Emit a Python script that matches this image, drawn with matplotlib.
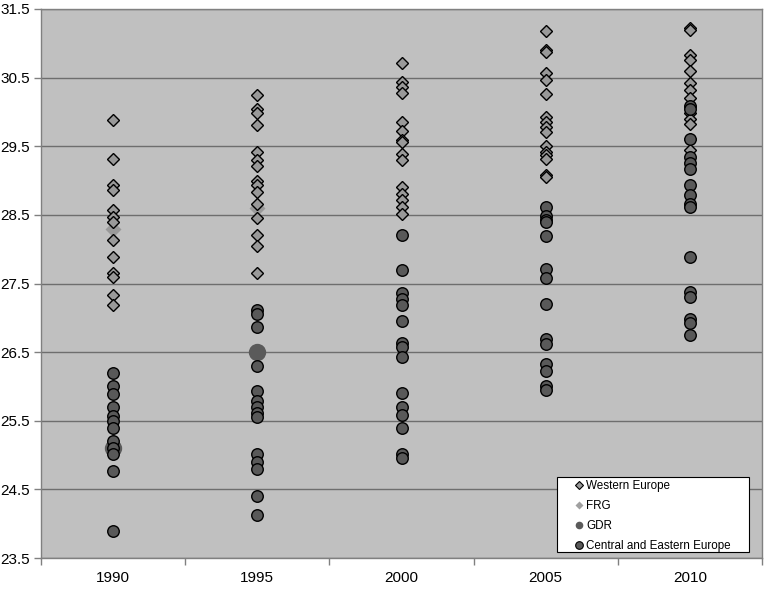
import matplotlib
matplotlib.use("Agg")
import matplotlib.pyplot as plt
from matplotlib.lines import Line2D
from matplotlib.patches import Rectangle
import numpy as np

plt.rcParams['font.family'] = ['Liberation Sans', 'DejaVu Sans']

years = ["1990", "1995", "2000", "2005", "2010"]
yticks = [23.5, 24.5, 25.5, 26.5, 27.5, 28.5, 29.5, 30.5, 31.5]

western_europe = [
    [29.88, 29.31, 28.93, 28.86, 28.57, 28.47, 28.39, 28.13, 27.88, 27.66, 27.59, 27.33, 27.18],
    [30.24, 30.05, 29.98, 29.81, 29.42, 29.30, 29.21, 29.00, 28.93, 28.83, 28.66, 28.46, 28.20, 28.04, 27.66],
    [30.72, 30.44, 30.37, 30.28, 29.85, 29.72, 29.59, 29.56, 29.39, 29.30, 28.91, 28.81, 28.71, 28.61, 28.52],
    [31.18, 30.90, 30.88, 30.57, 30.47, 30.26, 29.93, 29.85, 29.78, 29.71, 29.50, 29.42, 29.37, 29.31, 29.08, 29.05],
    [31.22, 31.19, 30.83, 30.76, 30.59, 30.42, 30.32, 30.20, 29.98, 29.90, 29.83, 29.61, 29.44],
]
frg = [28.30, 28.60]
gdr = [25.10, 26.50]
central_eastern_europe = [
    [26.20, 26.00, 25.89, 25.70, 25.57, 25.49, 25.40, 25.21, 25.11, 25.01, 24.77, 23.90],
    [27.12, 27.05, 26.86, 26.30, 25.93, 25.79, 25.70, 25.62, 25.55, 25.02, 24.90, 24.79, 24.41, 24.13],
    [28.20, 27.70, 27.36, 27.28, 27.19, 26.96, 26.63, 26.58, 26.43, 25.90, 25.70, 25.59, 25.39, 25.01, 24.96],
    [28.61, 28.49, 28.43, 28.39, 28.19, 27.71, 27.58, 27.20, 26.69, 26.62, 26.33, 26.22, 26.01, 25.95],
    [30.08, 30.05, 29.60, 29.34, 29.25, 29.17, 28.94, 28.79, 28.66, 28.61, 27.89, 27.37, 27.30, 26.98, 26.93, 26.75],
]

fig = plt.figure(figsize=(7.65, 5.89), dpi=100)
ax = fig.add_axes([41/765, 31/589, 721/765, 549/589])
ax.set_facecolor('#c0c0c0')

# big FRG / GDR markers (behind)
ax.plot(range(len(frg)), frg, linestyle='none', marker='D', markersize=8,
        markerfacecolor='#999999', markeredgecolor='none', zorder=2)
ax.plot(range(len(gdr)), gdr, linestyle='none', marker='o', markersize=12.5,
        markerfacecolor='#5a5a5a', markeredgecolor='none', zorder=2)

for i, vals in enumerate(western_europe):
    ax.plot([i] * len(vals), vals, linestyle='none', marker='D', markersize=6.3,
            markerfacecolor='#999999', markeredgecolor='black', markeredgewidth=1.0, zorder=3)
for i, vals in enumerate(central_eastern_europe):
    ax.plot([i] * len(vals), vals, linestyle='none', marker='o', markersize=8.3,
            markerfacecolor='#595959', markeredgecolor='black', markeredgewidth=1.0, zorder=3)

ax.set_ylim(23.5, 31.5)
ax.set_yticks(yticks)
ax.set_yticklabels([f"{v:.1f}" for v in yticks], fontsize=11)
ax.yaxis.grid(True, color='#6e6e6e', linewidth=1.0)
ax.set_axisbelow(True)

ax.set_xlim(-0.5, len(years) - 0.5)
ax.set_xticks(range(len(years)))
ax.set_xticklabels(years, fontsize=11)
ax.set_xticks(np.arange(-0.5, len(years) - 0.4, 1.0), minor=True)
ax.tick_params(axis='x', which='major', length=0, pad=9)
ax.tick_params(axis='x', which='minor', length=5, color='#808080', width=1)
ax.tick_params(axis='y', which='major', length=5, color='#808080', width=1, pad=3)

for side in ['left', 'bottom', 'top', 'right']:
    ax.spines[side].set_color('#808080')
    ax.spines[side].set_linewidth(1.0)

# legend box
box = Rectangle((516/721, 6/549), 192/721, 75/549, transform=ax.transAxes,
                facecolor='white', edgecolor='black', linewidth=0.8, zorder=5)
ax.add_patch(box)

handles = [
    Line2D([], [], linestyle='none', marker='D', markersize=3.8, markerfacecolor='#999999',
           markeredgecolor='black', markeredgewidth=0.8),
    Line2D([], [], linestyle='none', marker='D', markersize=3.8, markerfacecolor='#a0a0a0',
           markeredgecolor='none'),
    Line2D([], [], linestyle='none', marker='o', markersize=5.5, markerfacecolor='#5a5a5a',
           markeredgecolor='none'),
    Line2D([], [], linestyle='none', marker='o', markersize=5.5, markerfacecolor='#595959',
           markeredgecolor='black', markeredgewidth=0.8),
]
labels = ["Western Europe", "FRG", "GDR", "Central and Eastern Europe"]
leg = ax.legend(handles, labels, loc='upper left', bbox_to_anchor=(534/721, 78/549),
                fontsize=8.4, frameon=False,
                handlelength=0.6, handletextpad=0.35, labelspacing=0.68, borderpad=0,
                borderaxespad=0)
leg.set_zorder(6)

fig.savefig("out.png", dpi=100, facecolor='white')
